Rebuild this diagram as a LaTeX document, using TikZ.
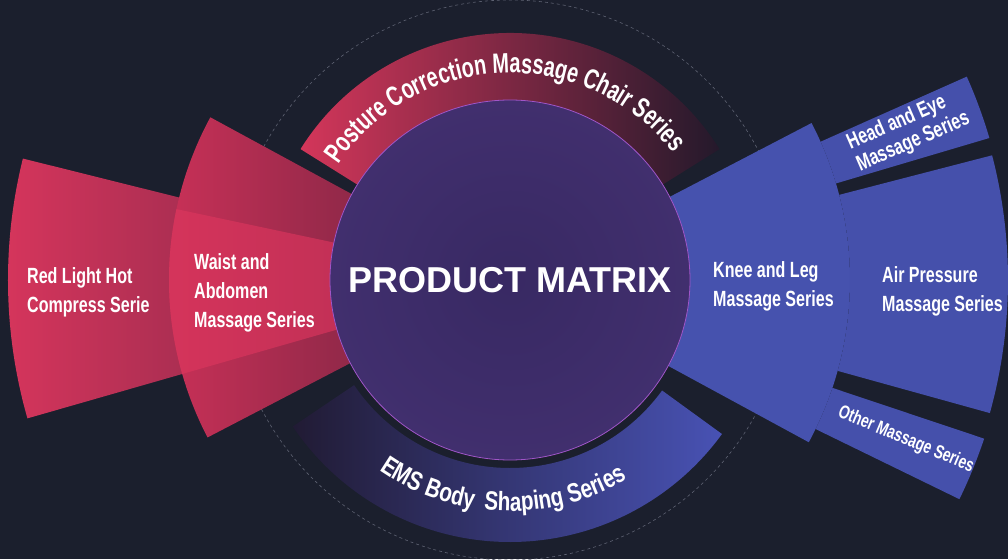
\documentclass[tikz,border=0pt]{standalone}
\usepackage{fontspec}
\usetikzlibrary{decorations.text}
\newfontfamily\narb{Liberation Sans}[FakeStretch=0.73]
\newfontfamily\postf{Liberation Sans}[FakeStretch=0.71]
\newfontfamily\emsf{Liberation Sans}[FakeStretch=0.78]
\newfontfamily\widef{Liberation Sans}
\definecolor{bg}{HTML}{1B1F2D}
\definecolor{dashc}{HTML}{5E6272}
\definecolor{redA}{HTML}{D6355C}
\definecolor{redB}{HTML}{A22D50}
\definecolor{waistA}{HTML}{CC3158}
\definecolor{waistB}{HTML}{8E2848}
\definecolor{midA}{HTML}{D5345B}
\definecolor{midB}{HTML}{C23056}
\definecolor{postA}{HTML}{D3365A}
\definecolor{postM}{HTML}{8A2849}
\definecolor{postB}{HTML}{24192B}
\definecolor{emsA}{HTML}{211B34}
\definecolor{emsM}{HTML}{3A2E86}
\definecolor{emsB}{HTML}{4852B4}
\definecolor{blueA}{HTML}{4652AE}
\definecolor{blueB}{HTML}{4550AB}
\definecolor{cirIn}{HTML}{382963}
\definecolor{cirOut}{HTML}{412F6E}
\definecolor{cirLine}{HTML}{A055C8}
\begin{document}
\begin{tikzpicture}[x=1pt,y=1pt,
  lbl/.style={text=white, font=\narb\bfseries\fontsize{22}{29}\selectfont, align=left, inner sep=0pt}]
\fill[bg] (-510,-279) rectangle (498,280);
\useasboundingbox (-510,-279) rectangle (498,280);
% dashed guide circle
\draw[dashc, dash pattern=on 3pt off 3pt, line width=0.6pt] (0,0) circle[radius=280pt];
% Red light sector
\path[left color=redA, right color=redB]
  (166:300pt) -- (166:502pt) arc[start angle=166, end angle=196, radius=502pt] -- (196:300pt) -- cycle;
% Waist sector
\path[left color=waistA, right color=waistB]
  (151.5:170pt) -- (151.5:341pt) arc[start angle=151.5, end angle=207.5, radius=341pt] -- (207.5:170pt) -- cycle;
\path[left color=midA, right color=midB]
  (168:170pt) -- (168:341pt) arc[start angle=168, end angle=196, radius=341pt] -- (196:170pt) -- cycle;
% Posture band
\path[left color=postA, middle color=postM, right color=postB]
  (148:175pt) -- (148:247pt) arc[start angle=148, end angle=32, radius=247pt] -- (32:175pt) arc[start angle=32, end angle=148, radius=175pt] -- cycle;
% EMS band
\path[left color=emsA, middle color=emsM, right color=emsB]
  (214:188pt) -- (214:262pt) arc[start angle=214, end angle=324, radius=262pt] -- (324:188pt) arc[start angle=324, end angle=214, radius=188pt] -- cycle;
% Knee sector
\path[fill=blueA]
  (-28.5:170pt) -- (-28.5:340pt) arc[start angle=-28.5, end angle=27.5, radius=340pt] -- (27.5:170pt) -- cycle;
% Air pressure
\path[fill=blueB]
  (-15.5:340pt) -- (-15.5:498pt) arc[start angle=-15.5, end angle=14.5, radius=498pt] -- (14.5:340pt) arc[start angle=14.5, end angle=-15.5, radius=340pt] -- cycle;
% Head and eye
\path[fill=blueB]
  (16.5:340pt) -- (16.5:500pt) arc[start angle=16.5, end angle=24, radius=500pt] -- (24:340pt) arc[start angle=24, end angle=16.5, radius=340pt] -- cycle;
% Other
\path[fill=blueB]
  (-26:340pt) -- (-26:500pt) arc[start angle=-26, end angle=-18.5, radius=500pt] -- (-18.5:340pt) arc[start angle=-18.5, end angle=-26, radius=340pt] -- cycle;
% central circle
\path[inner color=cirIn, outer color=cirOut] (0,0) circle[radius=180pt];
\draw[cirLine, line width=0.8pt] (0,0) circle[radius=180pt];
% curved labels
\path[decorate, decoration={text along path, text align=center,
  text={|\postf\bfseries\fontsize{28}{28}\selectfont\color{white}|Posture Correction Massage Chair Series}}]
  (150:207pt) arc[start angle=150, end angle=34, radius=207pt];
\path[decorate, decoration={text along path, text align=center,
  text={|\emsf\bfseries\fontsize{26.5}{26.5}\selectfont\color{white}|EMS Body {\kern5pt}Shaping Series}}]
  (218:231pt) arc[start angle=218, end angle=318, radius=231pt];
% labels
\node[text=white, font=\widef\bfseries\fontsize{36}{36}\selectfont, inner sep=0pt] (pm) at (0,0) {PRODUCT MATRIX};
\node[lbl, anchor=west] (red) at (-483,-12) {Red Light Hot\\Compress Serie};
\node[lbl, anchor=west] (waist) at (-316,-13) {Waist and\\Abdomen\\Massage Series};
\node[lbl, anchor=west] (knee) at (203,-6) {Knee and Leg\\Massage Series};
\node[lbl, anchor=west] (air) at (372,-11) {Air Pressure\\Massage Series};
\node[lbl, rotate=23.5, font=\narb\bfseries\fontsize{22}{24}\selectfont] (head) at (398.5,149) {Head and Eye\\Massage Series};
\node[lbl, rotate=-22.6, font=\narb\bfseries\fontsize{19}{22}\selectfont] (other) at (396,-160) {Other Massage Series};
\end{tikzpicture}
\end{document}
